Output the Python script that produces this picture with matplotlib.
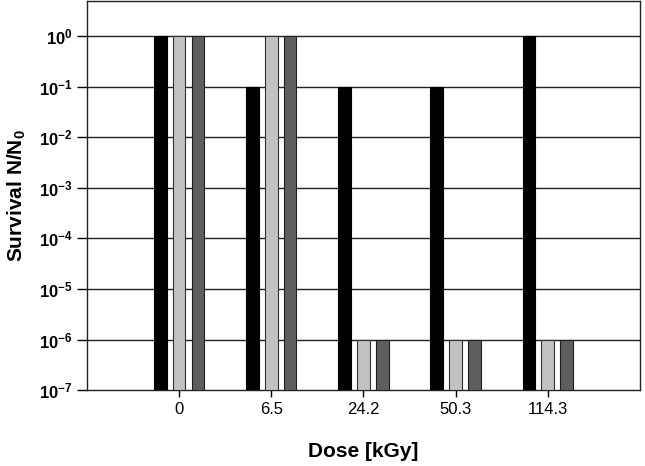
import numpy as np
import matplotlib; matplotlib.use("Agg"); import matplotlib.pyplot as plt

plt.rcParams["font.family"] = ["Liberation Sans", "DejaVu Sans"]
plt.rcParams["mathtext.fontset"] = "custom"
plt.rcParams["mathtext.rm"] = "Liberation Sans"
plt.rcParams["mathtext.bf"] = "Liberation Sans:bold"

doses = ["0", "6.5", "24.2", "50.3", "114.3"]
series_black = [1.0, 0.1, 0.1, 0.1, 1.0]
series_light = [1.0, 1.0, 1e-6, 1e-6, 1e-6]
series_dark = [1.0, 1.0, 1e-6, 1e-6, 1e-6]
decades = list(range(-7, 1))

fig = plt.figure(figsize=(6.45, 4.66), dpi=100)
ax = fig.add_axes([0.135, 0.163, 0.857, 0.835])
x = np.arange(len(doses))
base = 1e-7
off, w = 0.205, 0.135
for vals, dx, fc, ec in [(series_black, -off, "black", "black"),
                         (series_light, 0, "#c2c2c2", "#303030"),
                         (series_dark, off, "#5e5e5e", "#202020")]:
    ax.bar(x + dx, np.array(vals) - base, w, bottom=base, color=fc, edgecolor=ec, linewidth=0.8, zorder=3)

ax.set_yscale("log")
ax.set_ylim(1e-7, 5)
ax.set_xlim(-1, 5)
for d in decades[1:]:
    ax.axhline(10.0 ** d, color="#222222", lw=1.0, zorder=1)
ax.set_yticks([10.0 ** d for d in decades])
ax.set_yticklabels([r"$\mathbf{10^{%d}}$" % d for d in decades], fontsize=12)
ax.minorticks_off()
ax.set_xticks(x)
ax.set_xticklabels(doses, fontsize=12)
ax.tick_params(axis="y", length=7, width=1, direction="out")
ax.tick_params(axis="x", length=5, width=1, direction="out")
for s in ax.spines.values():
    s.set_linewidth(1.0); s.set_color("#222222")
ax.set_xlabel("Dose [kGy]", fontsize=15, fontweight="bold", labelpad=18)
ax.set_ylabel(r"Survival N/N$_\mathbf{0}$", fontsize=15, fontweight="bold", labelpad=8)
fig.savefig("out.png", dpi=100)
